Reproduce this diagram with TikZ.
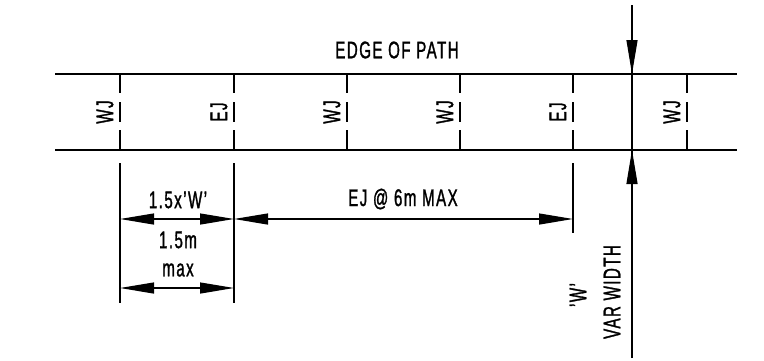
\documentclass[tikz,border=0pt]{standalone}
\usepackage{fontspec}
\setmainfont[FakeStretch=0.63,LetterSpace=6,FakeBold=1.2]{Liberation Sans}
\usetikzlibrary{arrows.meta}

\begin{document}
\begin{tikzpicture}[x=1pt,y=-1pt,every node/.style={inner sep=0pt,font=\fontsize{24}{27}\selectfont},
            >={Triangle[length=34pt,width=11pt]},
            edge/.style={line width=1.7pt},
            joint/.style={line width=1.7pt,dash pattern=on 19pt off 9pt on 20pt off 8pt on 20pt},
            dim/.style={line width=1.2pt}]
            \useasboundingbox(0,0)rectangle(764,360);
            % edges of path
            \draw[edge](55,74)--(737,74);
            \draw[edge](55,150)--(737,150);
            \node(edgetxt)at(397,50){EDGE OF PATH};
            % joints
            \foreach \x/\t [count=\i] in {120/WJ,234/EJ,347/WJ,460/WJ,573/EJ,687/WJ}{
              \draw[joint](\x,74)--(\x,150);
              \node[rotate=90](j\i)at(\x-15,112){\t};
            }
            % var width
            \coordinate(vtop)at(632,5);
            \coordinate(vup)at(632,74);
            \coordinate(vlow)at(632,150);
            \coordinate(vbot)at(632,358);
            \draw[dim](vtop)--(vbot);
            \draw[dim,->](vtop)--(vup);
            \draw[dim,->](vbot)--(vlow);
            \node[rotate=90](wtxt)at(578,295){'W'};
            \node[rotate=90](vartxt)at(612,292){VAR WIDTH};
            % dimensions
            \coordinate(a1)at(120,163);\coordinate(a2)at(120,303);
            \coordinate(b1)at(234,163);\coordinate(b2)at(234,303);
            \coordinate(c1)at(573,163);\coordinate(c2)at(573,233);
            \draw[dim](a1)--(a2);
            \draw[dim](b1)--(b2);
            \draw[dim](c1)--(c2);
            \draw[dim,<->](120,219)--(234,219);
            \draw[dim,<->](234,219)--(573,219);
            \draw[dim,<->](120,288)--(234,288);
            \node(wdim)at(178,200){1.5x'W'};
            \node(mdim)at(178,240){1.5m};
            \node(maxdim)at(178,270){max};
            \node(ejdim)at(403,199){EJ @ 6m MAX};
          \end{tikzpicture}
\end{document}
